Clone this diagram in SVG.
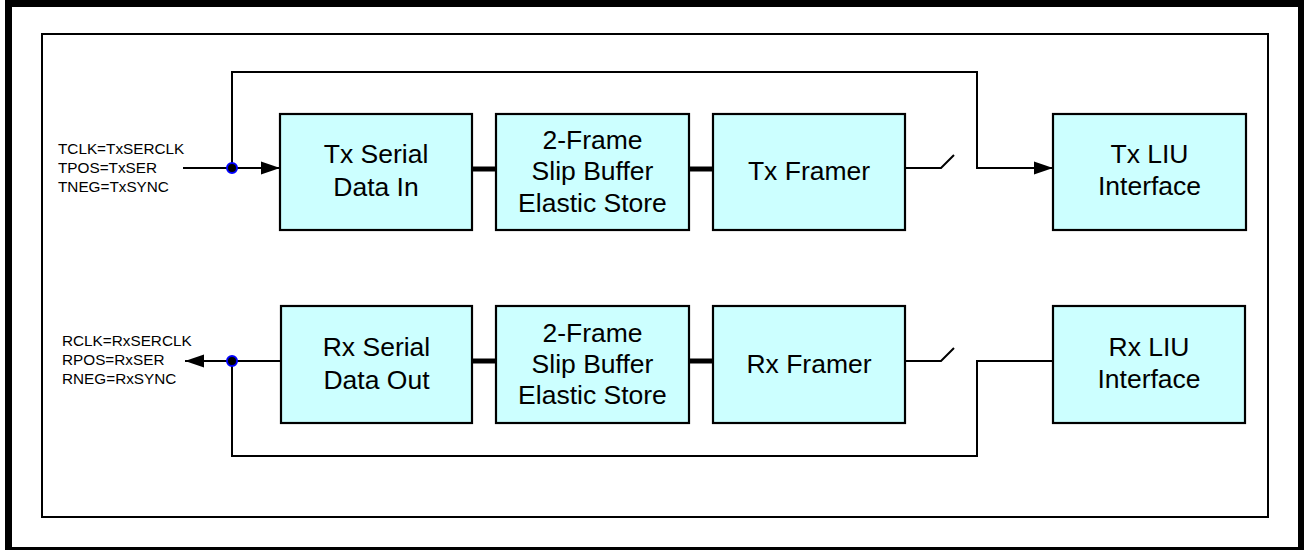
<svg xmlns="http://www.w3.org/2000/svg" width="1304" height="550" viewBox="0 0 1304 550">
<style>
.box{fill:#CCFFFF;stroke:#000;stroke-width:2.2}
.t{font-family:"Liberation Sans",Arial,sans-serif;font-size:26.5px;fill:#000;text-anchor:middle}
.s{font-family:"Liberation Sans",Arial,sans-serif;font-size:15.3px;fill:#000}
.ln{fill:none;stroke:#000;stroke-width:2}
.bus{fill:none;stroke:#000;stroke-width:5}
.dot{fill:#000;stroke:#0000FF;stroke-width:2}
</style>
<defs>
<marker id="arr" markerWidth="20" markerHeight="14" refX="19" refY="7" orient="auto" markerUnits="userSpaceOnUse">
<path d="M0,0.5 L19,7 L0,13.5 Z" fill="#000"/>
</marker>
</defs>
<rect x="8.5" y="3.5" width="1293" height="547" fill="#fff" stroke="#000" stroke-width="7"/>
<rect x="42" y="34" width="1226" height="483" fill="none" stroke="#000" stroke-width="2"/>
<g id="connectors">
<path class="ln" d="M183,168 H280" marker-end="url(#arr)"/>
<path class="ln" d="M232,168 V72 H977 V168 H1053" marker-end="url(#arr)"/>
<path class="ln" d="M905,168 H941 L954,155"/>
<line class="bus" x1="472" y1="169" x2="496" y2="169"/>
<line class="bus" x1="689" y1="169" x2="713" y2="169"/>
<path class="ln" d="M281,361 H185" marker-end="url(#arr)"/>
<path class="ln" d="M232,361 V456 H977 V361 H1053"/>
<path class="ln" d="M905,361 H941 L954,348"/>
<line class="bus" x1="472" y1="361" x2="496" y2="361"/>
<line class="bus" x1="689" y1="361" x2="713" y2="361"/>
<circle class="dot" cx="232" cy="168" r="5"/>
<circle class="dot" cx="232" cy="361" r="5"/>
</g>
<g id="tx-labels">
<text class="s" x="58" y="154">TCLK=TxSERCLK</text>
<text class="s" x="58" y="173">TPOS=TxSER</text>
<text class="s" x="58" y="192">TNEG=TxSYNC</text>
</g>
<g id="rx-labels">
<text class="s" x="62" y="346">RCLK=RxSERCLK</text>
<text class="s" x="62" y="365">RPOS=RxSER</text>
<text class="s" x="62" y="384">RNEG=RxSYNC</text>
</g>
<g id="tx-serial">
<rect class="box" x="280" y="114" width="192" height="116"/>
<text class="t" x="376" y="163">Tx Serial</text>
<text class="t" x="376" y="196">Data In</text>
</g>
<g id="tx-slip">
<rect class="box" x="496" y="114" width="193" height="116"/>
<text class="t" x="592.5" y="149">2-Frame</text>
<text class="t" x="592.5" y="180">Slip Buffer</text>
<text class="t" x="592.5" y="211.5">Elastic Store</text>
</g>
<g id="tx-framer">
<rect class="box" x="713" y="114" width="192" height="116"/>
<text class="t" x="809" y="180">Tx Framer</text>
</g>
<g id="tx-liu">
<rect class="box" x="1053" y="114" width="193" height="116"/>
<text class="t" x="1149.5" y="163">Tx LIU</text>
<text class="t" x="1149.5" y="195">Interface</text>
</g>
<g id="rx-serial">
<rect class="box" x="281" y="306" width="191" height="117"/>
<text class="t" x="376.5" y="356">Rx Serial</text>
<text class="t" x="376.5" y="389">Data Out</text>
</g>
<g id="rx-slip">
<rect class="box" x="496" y="306" width="193" height="117"/>
<text class="t" x="592.5" y="341.5">2-Frame</text>
<text class="t" x="592.5" y="372.5">Slip Buffer</text>
<text class="t" x="592.5" y="404">Elastic Store</text>
</g>
<g id="rx-framer">
<rect class="box" x="713" y="306" width="192" height="117"/>
<text class="t" x="809" y="372.5">Rx Framer</text>
</g>
<g id="rx-liu">
<rect class="box" x="1053" y="306" width="192" height="117"/>
<text class="t" x="1149" y="356">Rx LIU</text>
<text class="t" x="1149" y="388">Interface</text>
</g>
</svg>
